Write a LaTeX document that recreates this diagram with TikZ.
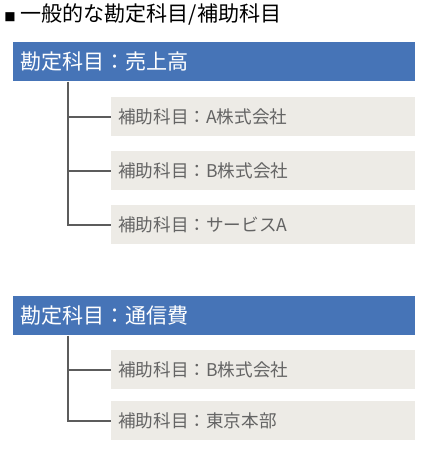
\documentclass[tikz,border=0pt]{standalone}
\usepackage{fontspec}
\setmainfont{Noto Sans CJK JP}
\usepackage{tikz}
\usetikzlibrary{calc}
\definecolor{hblue}{HTML}{4674B7}
\definecolor{sgray}{HTML}{EDEBE6}
\definecolor{stext}{HTML}{646464}
\definecolor{lgray}{HTML}{5C5C5C}
\tikzset{
  % account heading: blue bar, white text at the left
  head/.style = {rectangle, fill=hblue, anchor=north west, inner xsep=5.25pt,
                 minimum width=301.5pt, minimum height=29.25pt, text width=291pt,
                 align=left, text=white, font=\fontsize{15.8}{18}\selectfont},
  % sub account: light gray bar
  sub/.style  = {rectangle, fill=sgray, anchor=north west, inner xsep=5.25pt,
                 minimum width=228pt, minimum height=29.25pt, text width=217.5pt,
                 align=left, text=stext, font=\fontsize{13.2}{16}\selectfont},
  tree/.style = {draw=lgray, line width=1.1pt},
  ttl/.style  = {anchor=west, inner sep=0pt, font=\fontsize{15.8}{18}\selectfont},
}
\begin{document}
\begin{tikzpicture}[x=0.75pt, y=-0.75pt]
\useasboundingbox (0,0) rectangle (426,458);
\node[ttl] (title) at (4,14) {{\fontsize{8.5}{10}\selectfont ■}\ 一般的な勘定科目/補助科目};
% sales
\node[head] (h1) at (13,42)  {勘定科目：売上高};
\node[sub]  (a1) at (111,97)  {補助科目：A株式会社};
\node[sub]  (a2) at (111,151) {補助科目：B株式会社};
\node[sub]  (a3) at (111,205) {補助科目：サービスA};
\coordinate (t1) at ($(h1.south west)+(55,0)$);
\draw[tree] (t1) |- (a3.west);
\draw[tree] (t1 |- a1.west) -- (a1.west);
\draw[tree] (t1 |- a2.west) -- (a2.west);
% communication
\node[head] (h2) at (13,296)  {勘定科目：通信費};
\node[sub]  (b1) at (111,350) {補助科目：B株式会社};
\node[sub]  (b2) at (111,401) {補助科目：東京本部};
\coordinate (t2) at ($(h2.south west)+(55,0)$);
\draw[tree] (t2) |- (b2.west);
\draw[tree] (t2 |- b1.west) -- (b1.west);
\end{tikzpicture}
\end{document}
